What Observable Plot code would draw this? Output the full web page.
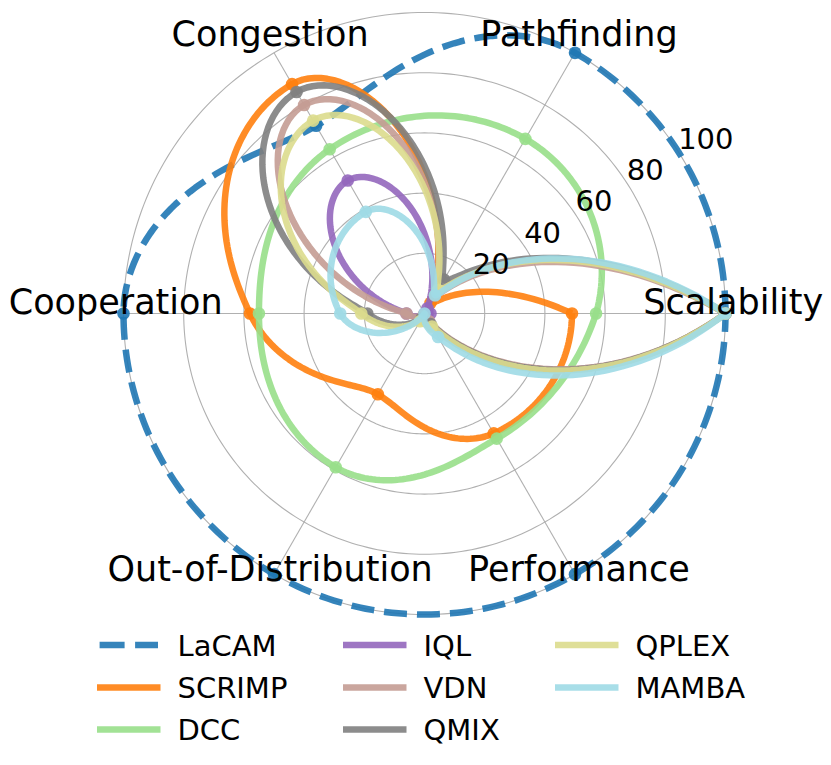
<!DOCTYPE html>
<html><head><meta charset="utf-8">
<script src="https://cdn.jsdelivr.net/npm/d3@7"></script>
<script src="https://cdn.jsdelivr.net/npm/@observablehq/plot@0.6"></script>
<style>
body{margin:0;background:#fff;font-family:"DejaVu Sans",sans-serif;}
svg{display:block;}
</style></head><body>
<script>
// ---- data ----
const axesLabels = ["Scalability", "Pathfinding", "Congestion", "Cooperation", "Out-of-Distribution", "Performance"];
const methods = ["LaCAM", "SCRIMP", "DCC", "IQL", "VDN", "QMIX", "QPLEX", "MAMBA"];
const LaCAM  = [100, 100, 72, 100, 100, 100];
const SCRIMP = [49, 4, 88, 58, 31, 46];
const DCC    = [57, 67, 63, 55, 59, 48];
const IQL    = [2, 2, 51, 6, 0, 2];
const VDN    = [100, 7, 80, 6, 1, 3];
const QMIX   = [100, 13, 85, 19, 2, 4];
const QPLEX  = [100, 9, 74, 21, 3, 5];
const MAMBA  = [100, 7, 39, 28, 0, 9];
const radialTicks = [20, 40, 60, 80, 100];
const methodColors = ["#1f77b4", "#ff7f0e", "#98df8a", "#9467bd", "#c49c94", "#7f7f7f", "#dbdb8d", "#9edae5"];

const seriesValues = [LaCAM, SCRIMP, DCC, IQL, VDN, QMIX, QPLEX, MAMBA];

// ---- layout ----
const W = 831, H = 625, TOTAL_H = 765;
const margin = {left: 123, right: 106, top: 12, bottom: 11};
const cx = margin.left + (W - margin.left - margin.right) / 2;
const cy = margin.top + (H - margin.top - margin.bottom) / 2;

const nAxes = axesLabels.length;
const angle = k => k * 2 * Math.PI / nAxes;
const px = (v, k) => v * Math.cos(angle(k));
const py = (v, k) => v * Math.sin(angle(k));

// closed polygon rows: axis index k and value v (first point repeated to close)
const rowsClosed = vals => [...vals, vals[0]].map((v, k) => ({k, v}));
const rowsOpen = vals => vals.map((v, k) => ({k, v}));

// monotone (PCHIP) slopes for uniformly spaced samples
function pchipSlopes(y) {
  const n = y.length, d = [];
  for (let k = 0; k < n - 1; k++) d.push(y[k + 1] - y[k]);
  const m = new Array(n).fill(0);
  for (let k = 1; k < n - 1; k++) if (d[k - 1] * d[k] > 0) m[k] = 2 / (1 / d[k - 1] + 1 / d[k]);
  const edge = (d0, d1) => {
    let s = (3 * d0 - d1) / 2;
    if (Math.sign(s) !== Math.sign(d0)) s = 0;
    else if (Math.sign(d0) !== Math.sign(d1) && Math.abs(s) > Math.abs(3 * d0)) s = 3 * d0;
    return s;
  };
  if (n > 2) { m[0] = edge(d[0], d[1]); m[n - 1] = edge(d[n - 2], d[n - 3]); }
  return m;
}

// Custom curve: monotone cubic interpolation of radius over angle (polar)
function polarMonotone(context) {
  let pts = [];
  return {
    areaStart() {}, areaEnd() {},
    lineStart() { pts = []; },
    point(x, y) { pts.push([+x, +y]); },
    lineEnd() {
      const n = pts.length;
      if (!n) return;
      const step = 2 * Math.PI / (n - 1);
      const r = pts.map(([x, y]) => Math.hypot(x - cx, y - cy));
      const m = pchipSlopes(r);
      const toXY = (t, rr) => { rr = Math.max(0, rr); return [cx + rr * Math.cos(t), cy - rr * Math.sin(t)]; };
      let p = toXY(0, r[0]);
      context.moveTo(p[0], p[1]);
      const N = 48;
      for (let k = 0; k < n - 1; k++) {
        for (let j = 1; j <= N; j++) {
          const t = j / N, t2 = t * t, t3 = t2 * t;
          const h00 = 2 * t3 - 3 * t2 + 1, h10 = t3 - 2 * t2 + t, h01 = -2 * t3 + 3 * t2, h11 = t3 - t2;
          const rr = h00 * r[k] + h10 * m[k] + h01 * r[k + 1] + h11 * m[k + 1];
          p = toXY((k + t) * step, rr);
          context.lineTo(p[0], p[1]);
        }
      }
    }
  };
}

const tickAngle = 31.5 * Math.PI / 180;
const labelR = 102.6;

const marks = [];
// grid rings
radialTicks.forEach(t => {
  marks.push(Plot.line(rowsClosed(axesLabels.map(() => t)), {
    x: d => px(d.v, d.k), y: d => py(d.v, d.k), curve: polarMonotone,
    stroke: "#b0b0b0", strokeWidth: 1.1
  }));
});
// spokes
marks.push(Plot.link(axesLabels, {
  x1: 0, y1: 0, x2: (d, i) => px(100, i), y2: (d, i) => py(100, i),
  stroke: "#b0b0b0", strokeWidth: 1.1
}));
// series
seriesValues.forEach((vals, s) => {
  const opts = {
    x: d => px(d.v, d.k), y: d => py(d.v, d.k), curve: polarMonotone,
    stroke: methodColors[s], strokeWidth: 6.5, strokeOpacity: 0.9,
    strokeLinejoin: "round", strokeLinecap: "butt"
  };
  if (s === 0) opts.strokeDasharray = "23,10";
  marks.push(Plot.line(rowsClosed(vals), opts));
  marks.push(Plot.dot(rowsOpen(vals), {
    x: d => px(d.v, d.k), y: d => py(d.v, d.k), r: 6.3,
    fill: methodColors[s], fillOpacity: 0.9, stroke: "none"
  }));
});
// radial tick labels
marks.push(Plot.text(radialTicks, {
  x: v => v * Math.cos(tickAngle), y: v => v * Math.sin(tickAngle),
  text: d => String(d), textAnchor: "start", lineAnchor: "middle",
  dx: -3, dy: -17, fontSize: 29, fill: "black"
}));
// axis labels
marks.push(Plot.text(axesLabels, {
  x: (d, i) => px(labelR, i), y: (d, i) => py(labelR, i),
  text: d => d, textAnchor: "middle", lineAnchor: "bottom",
  fontSize: 35, fill: "black"
}));

const chart = Plot.plot({
  width: W, height: H,
  marginLeft: margin.left, marginRight: margin.right, marginTop: margin.top, marginBottom: margin.bottom,
  x: {domain: [-100, 100], axis: null},
  y: {domain: [-100, 100], axis: null},
  style: {fontFamily: "DejaVu Sans", background: "white", overflow: "visible"},
  marks
});
document.body.appendChild(chart);

// ---- legend (below the chart) ----
const leg = d3.create("svg").attr("width", W).attr("height", TOTAL_H - H)
  .style("font-family", "DejaVu Sans");
const colX = [97, 343, 555];
const rowY = [20, 62.5, 104.5];
methods.forEach((m, i) => {
  const c = Math.floor(i / 3), r = i % 3;
  const x0 = colX[c], y = rowY[r];
  const ln = leg.append("line")
    .attr("y1", y).attr("y2", y)
    .attr("stroke", methodColors[i]).attr("stroke-opacity", 0.9).attr("stroke-width", 6.5);
  if (i === 0) ln.attr("x1", x0 + 2.6).attr("x2", x0 + 61).attr("stroke-dasharray", "25,10.5");
  else ln.attr("x1", x0).attr("x2", x0 + 63.5);
  leg.append("text").attr("x", x0 + 80.5).attr("y", y + 10.6)
    .attr("font-size", 29).attr("fill", "black").text(m);
});
document.body.appendChild(leg.node());
</script>
</body></html>
